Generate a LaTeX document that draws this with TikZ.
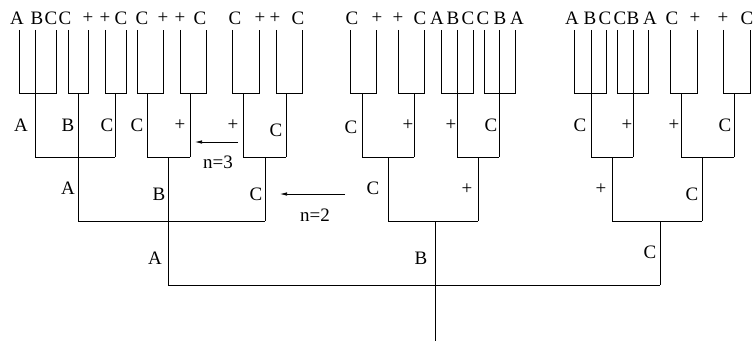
\documentclass[tikz,border=0pt]{standalone}
\usepackage{fontspec}
\setmainfont{Liberation Serif}
\usetikzlibrary{arrows.meta}
\begin{document}
\begin{tikzpicture}[x=1pt,y=-1pt,
  lbl/.style={font=\fontsize{19}{19}\selectfont,inner sep=0pt},
  wire/.style={line width=0.8pt,line join=miter},
  pointer/.style={line width=0.7pt,-{Latex[length=7pt,width=3.5pt]}}]
\useasboundingbox (0,0) rectangle (754,345);
% leaf coordinates
\foreach \x [count=\i] in {19,35,56,68,88,105,126,137,163,180,206,232,259,276,302,
  350,376,398,424,441,457,473,484,499,515,
  574,591,606,617,633,648,670,697,723,750}
  {\coordinate (t\i) at (\x,30); \coordinate (b\i) at (\x,93);}
% level-1 stems
\foreach \x [count=\i] in {35,78,115,147,190,243,286,362,414,457,499,591,633,681,734}
  {\coordinate (m\i) at (\x,93); \coordinate (n\i) at (\x,157);}
% level-2 stems
\foreach \x [count=\i] in {78,168,265,388,478,612,702}
  {\coordinate (k\i) at (\x,157); \coordinate (r\i) at (\x,221);}
\coordinate (h) at (435,221);
\coordinate (root) at (435,341);
\coordinate (rc) at (660,221);
\coordinate (g1) at (168,285);
\coordinate (g3) at (660,285);
% top labels
\foreach \x/\s [count=\i] in {17/A,37/B,51/C,65/C,88/+,105/+,121/C,142/C,163/+,180/+,200/C,235/C,260/+,275/+,298/C,
  352/C,377/+,398/+,420/C,437/A,453/B,468/C,483/C,500/B,517/A,
  572/A,590/B,605/C,620/C,633/B,650/A,672/C,695/+,723/+,747/C}
  {\node[lbl] (top\i) at (\x,18) {\s};}
% level 1
\draw[wire] (t1)--(b1)--(b3)--(t3) (t2)--(n1);
\draw[wire] (t4)--(b4)--(b5)--(t5) (m2)--(r1);
\draw[wire] (t6)--(b6)--(b7)--(t7) (m3)--(n3);
\draw[wire] (t8)--(b8)--(b9)--(t9) (m4)--(n4);
\draw[wire] (t10)--(b10)--(b11)--(t11) (m5)--(n5);
\draw[wire] (t12)--(b12)--(b13)--(t13) (m6)--(n6);
\draw[wire] (t14)--(b14)--(b15)--(t15) (m7)--(n7);
\draw[wire] (t16)--(b16)--(b17)--(t17) (m8)--(n8);
\draw[wire] (t18)--(b18)--(b19)--(t19) (m9)--(n9);
\draw[wire] (t20)--(b20)--(b22)--(t22) (t21)--(n10);
\draw[wire] (t23)--(b23)--(b25)--(t25) (t24)--(n11);
\draw[wire] (t26)--(b26)--(b28)--(t28) (t27)--(n12);
\draw[wire] (t29)--(b29)--(b31)--(t31) (t30)--(n13);
\draw[wire] (t32)--(b32)--(b33)--(t33) (m14)--(n14);
\draw[wire] (t34)--(b34)--(b35)--(t35) (m15)--(n15);
% level 2
\draw[wire] (n1)--(n3);
\draw[wire] (n4)--(n5) (k2)--(g1);
\draw[wire] (n6)--(n7) (k3)--(r3);
\draw[wire] (n8)--(n9) (k4)--(r4);
\draw[wire] (n10)--(n11) (k5)--(r5);
\draw[wire] (n12)--(n13) (k6)--(r6);
\draw[wire] (n14)--(n15) (k7)--(r7);
% level 3
\draw[wire] (r1)--(r3);
\draw[wire] (r4)--(r5) (h)--(root);
\draw[wire] (r6)--(r7) (rc)--(g3);
% level 4
\draw[wire] (g1)--(g3);
% level-2 labels
\node[lbl] (a1) at (21,125) {A};
\node[lbl] (a2) at (68,125) {B};
\node[lbl] (a3) at (107,125) {C};
\node[lbl] (a4) at (137,125) {C};
\node[lbl] (a5) at (180,125) {+};
\node[lbl] (a6) at (233,125) {+};
\node[lbl] (a7) at (276,130) {C};
\node[lbl] (a8) at (351,127) {C};
\node[lbl] (a9) at (408,125) {+};
\node[lbl] (a10) at (451,125) {+};
\node[lbl] (a11) at (491,125) {C};
\node[lbl] (a12) at (580,125) {C};
\node[lbl] (a13) at (627,125) {+};
\node[lbl] (a14) at (674,125) {+};
\node[lbl] (a15) at (725,125) {C};
% level-3 labels
\node[lbl] (c1) at (68,188) {A};
\node[lbl] (c2) at (159,194) {B};
\node[lbl] (c3) at (256,194) {C};
\node[lbl] (c4) at (373,188) {C};
\node[lbl] (c5) at (467,189) {+};
\node[lbl] (c6) at (601,189) {+};
\node[lbl] (c7) at (692,194) {C};
% level-4 labels
\node[lbl] (d1) at (155,258) {A};
\node[lbl] (d2) at (421,258) {B};
\node[lbl] (d3) at (650,252) {C};
% arrows
\coordinate (p3s) at (238,142); \coordinate (p3e) at (195,142);
\coordinate (p2s) at (345,194); \coordinate (p2e) at (280,194);
\draw[pointer] (p3s)--(p3e);
\draw[pointer] (p2s)--(p2e);
\node[lbl] (lab3) at (218,162) {n=3};
\node[lbl] (lab2) at (315,215) {n=2};
\end{tikzpicture}
\end{document}
